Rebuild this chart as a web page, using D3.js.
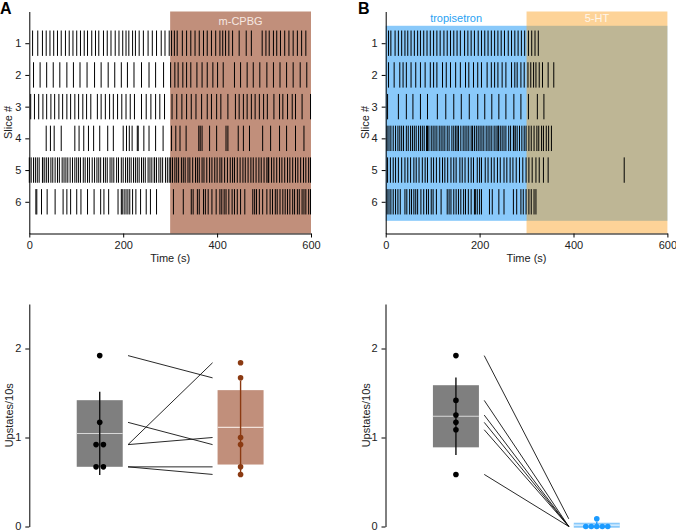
<!DOCTYPE html>
<html><head><meta charset="utf-8">
<script src="https://cdn.jsdelivr.net/npm/d3@7"></script>
<style>
body{margin:0;background:#fff}
svg{display:block}
text{font-family:"Liberation Sans",Arial,Helvetica,sans-serif}
</style>
</head><body>
<svg id="chart" width="676" height="531"></svg>
<script>
// ---------------- DATA ----------------
const slices = [1, 2, 3, 4, 5, 6];
const timeTicks = [0, 200, 400, 600];
const upTicks = [0, 1, 2];

const drugA = "m-CPBG";
const preB = "tropisetron";
const drugB = "5-HT";
const drugStart = 300, drugEnd = 600;

// spike (upstate) times in seconds, one array per slice — panel A
const spikesA1 = [7,18,28,36,44,52,60,68,77,85,93,101,109,117,124,133,141,148,158,166,174,183,191,199,206,212,220,226,234,243,253,262,271,281,289,298,303,309,315,326,335,344,353,362,371,379,388,397,406,412,418,425,433,447,462,473,496,504,511,520,527,535,544,553,562,571,580,589];
const spikesA2 = [9,23,37,51,65,80,94,108,123,139,153,168,182,196,209,223,239,255,269,286,301,310,317,327,335,344,357,368,379,391,401,413,437,450,464,477,491,506,520,534,548,562,577,591];
const spikesA3 = [3,11,20,29,37,46,54,63,71,80,88,97,105,114,122,131,145,153,162,171,179,188,197,206,215,224,239,249,259,269,278,288,304,314,325,335,345,355,367,379,388,399,408,423,439,447,456,464,473,481,490,499,507,521,533,540,550,560,567,581,599];
const spikesA4 = [36,45,53,68,97,106,116,126,137,150,167,179,200,207,213,219,230,232,244,255,269,285,303,312,321,334,361,364,368,384,399,419,423,445,456,469,497,514,533,548,567,585];
const spikesA5 = [0,4,9,13,17,21,28,29,33,37,41,46,50,55,60,64,70,74,78,82,87,92,97,101,105,109,115,119,124,128,134,139,144,148,152,158,162,166,172,176,180,186,190,196,200,205,209,213,217,222,226,230,234,239,243,247,253,257,261,266,267,271,276,280,284,290,294,298,301,305,310,314,318,324,328,332,338,342,348,354,358,362,368,372,378,384,389,395,400,406,410,416,422,428,433,437,443,449,455,460,466,472,477,483,489,494,500,506,509,510,516,521,527,533,538,544,550,555,561,567,572,578,584,589,595,599];
const spikesA6 = [14,16,26,38,55,72,80,88,101,110,124,138,152,159,169,189,196,198,202,206,210,214,220,227,237,249,258,271,307,328,345,349,358,362,371,375,381,389,398,406,410,415,419,425,432,437,443,450,459,476,480,484,490,497,506,513,518,524,528,534,540,545,550,555,561,565,571,575,581,585,589,595,599];

// panel B
const spikesB1 = [6,11,20,27,34,41,47,54,61,68,74,81,88,95,102,109,116,124,131,138,145,152,159,168,175,182,189,197,204,211,218,225,232,239,246,253,261,268,275,282,289,296,304,311,318,325];
const spikesB2 = [6,18,30,37,44,54,64,74,84,95,102,109,121,129,138,149,159,170,177,187,196,204,216,225,232,239,248,256,268,275,280,288,295,303,309,315,320,327,334,346,358];
const spikesB3 = [4,27,44,58,74,89,110,128,145,161,178,196,211,226,241,256,273,288,304,323,337];
const spikesB4 = [3,7,11,16,21,26,30,34,38,44,48,53,57,61,65,70,74,78,82,87,89,92,97,101,105,109,114,118,122,126,131,135,141,145,149,152,155,160,165,169,173,177,182,185,189,193,197,201,205,209,214,218,222,226,231,235,239,240,244,248,252,256,262,266,272,273,276,280,285,290,295,299,305,310,316,322,326,332,336,342,347,353];
const spikesB5 = [4,10,16,21,27,34,41,47,53,60,65,71,78,84,89,97,102,108,115,121,126,132,139,145,150,158,163,169,176,182,187,195,200,204,212,218,225,231,238,244,252,258,265,271,278,285,292,299,305,312,320,327,336,346,508];
const spikesB6 = [3,7,11,16,21,26,31,41,45,51,55,60,64,68,75,81,87,91,97,101,108,118,131,135,139,145,150,155,160,166,170,176,182,189,191,195,200,204,221,227,241,252,272,279,288,293,299,305,310,316,320];

// Upstates / 10 s, paired per slice
const groupsA = ["Control", "m-CPBG"];
const upA_control = [1.92, 1.17, 0.92, 0.92, 0.67, 0.67];
const upA_drug    = [1.67, 0.92, 1.84, 1.00, 0.67, 0.585];
const groupsB = ["tropisetron", "5-HT"];
const upB_control = [1.92, 1.417, 1.252, 1.17, 1.087, 0.585];
const upB_drug    = [0.086, 0, 0, 0, 0, 0];

// ---------------- DRAW ----------------
const svg = d3.select("#chart");
const FONT = 11;
const plotW = 281.7;
const topY = d3.scaleLinear().domain([0, 7]).range([11.5, 233.5]);
const upY = d3.scaleLinear().domain([0, 2.5]).range([526.5, 304]);

const brown = "#C18F7B", brownDark = "#8B3A12";
const blueBg = "#89C9FA", blueDot = "#1C9BFF", blueText = "#2AA2F2";

function styleAxis(g) {
  g.selectAll("path.domain").attr("stroke", "#000").attr("stroke-width", 1);
  g.selectAll(".tick line").attr("stroke", "#000");
  g.selectAll(".tick text").attr("font-size", FONT).attr("fill", "#222")
    .attr("font-family", '"Liberation Sans",Arial,sans-serif');
}

function raster(x0, rows, panel) {
  const x = d3.scaleLinear().domain([0, 600]).range([x0, x0 + plotW]);
  const g = svg.append("g");
  if (panel === "A") {
    g.append("rect").attr("x", x(drugStart)).attr("y", topY(0))
      .attr("width", x(drugEnd) - x(drugStart)).attr("height", topY(7) - topY(0))
      .attr("fill", brown);
  } else {
    g.append("rect").attr("x", x(0)).attr("y", topY(0.45))
      .attr("width", x(600) - x(0)).attr("height", topY(6.6) - topY(0.45))
      .attr("fill", blueBg);
    g.append("rect").attr("x", x(drugStart)).attr("y", topY(0))
      .attr("width", x(drugEnd) - x(drugStart)).attr("height", topY(7) - topY(0))
      .attr("fill", "rgb(251,162,36)").attr("fill-opacity", 0.47);
  }
  rows.forEach((times, i) => {
    const s = slices[i];
    g.append("g").selectAll("line").data(times).join("line")
      .attr("x1", d => x(d)).attr("x2", d => x(d))
      .attr("y1", topY(s - 0.4)).attr("y2", topY(s + 0.4))
      .attr("stroke", "#000").attr("stroke-width", 1);
  });
  if (panel === "A") {
    g.append("text").attr("x", (x(drugStart) + x(drugEnd)) / 2).attr("y", 25)
      .attr("text-anchor", "middle").attr("font-size", FONT).attr("fill", "#F6E8E2").text(drugA);
  } else {
    g.append("text").attr("x", (x(0) + x(drugStart)) / 2).attr("y", 22)
      .attr("text-anchor", "middle").attr("font-size", FONT).attr("fill", blueText).text(preB);
    g.append("text").attr("x", (x(drugStart) + x(drugEnd)) / 2).attr("y", 22)
      .attr("text-anchor", "middle").attr("font-size", FONT).attr("fill", "#FFF6EA").text(drugB);
  }
  const ax = svg.append("g").attr("transform", `translate(0,${topY(7)})`)
    .call(d3.axisBottom(x).tickValues(timeTicks).tickSize(4).tickSizeOuter(0).tickPadding(4));
  styleAxis(ax);
  const ay = svg.append("g").attr("transform", `translate(${x0},0)`)
    .call(d3.axisLeft(topY).tickValues(slices).tickFormat(d3.format("d")).tickSize(4).tickSizeOuter(0).tickPadding(4));
  styleAxis(ay);
  svg.append("text").attr("x", x0 + plotW / 2).attr("y", 262).attr("text-anchor", "middle")
    .attr("font-size", FONT).attr("fill", "#222").text("Time (s)");
  svg.append("text").attr("transform", `translate(${x0 - 21},${(topY(0) + topY(7)) / 2}) rotate(-90)`)
    .attr("text-anchor", "middle").attr("dominant-baseline", "central")
    .attr("font-size", FONT).attr("fill", "#222").text("Slice #");
}

function dodge(values, cx) {
  // spread identical values horizontally
  const out = [];
  const used = new Array(values.length).fill(false);
  values.forEach((v, i) => {
    if (used[i]) return;
    const grp = [];
    values.forEach((w, j) => { if (!used[j] && Math.abs(w - v) < 0.01) { grp.push(j); used[j] = true; } });
    const sp = grp.length <= 2 ? 7.3 : 5.5;
    grp.forEach((j, k) => out.push({ v: values[j], x: cx + (k - (grp.length - 1) / 2) * sp }));
  });
  return out;
}

function summary(x0, groups, ctrl, drug, boxColors, lineColors, dotColors, meanColors) {
  const xs = d3.scalePoint().domain(groups).range([x0, x0 + plotW]).padding(0.5);
  const halfW = 23;
  const g = svg.append("g");
  const xl = xs(groups[0]) + halfW + 5.3, xr = xs(groups[1]) - halfW - 5;
  g.selectAll("line.pair").data(d3.zip(ctrl, drug)).join("line")
    .attr("x1", xl).attr("x2", xr)
    .attr("y1", d => upY(d[0])).attr("y2", d => upY(d[1]))
    .attr("stroke", "#111").attr("stroke-width", 0.9);
  [ctrl, drug].forEach((vals, gi) => {
    const cx = xs(groups[gi]);
    const m = d3.mean(vals), sd = d3.deviation(vals);
    const ci = 1.96 * sd / Math.sqrt(vals.length);
    g.append("rect").attr("x", cx - halfW).attr("width", 2 * halfW)
      .attr("y", upY(m + ci)).attr("height", upY(m - ci) - upY(m + ci))
      .attr("fill", boxColors[gi]);
    g.append("line").attr("x1", cx - halfW).attr("x2", cx + halfW)
      .attr("y1", upY(m)).attr("y2", upY(m)).attr("stroke", meanColors[gi]).attr("stroke-width", 1.2);
    g.append("line").attr("x1", cx).attr("x2", cx)
      .attr("y1", upY(m + sd)).attr("y2", upY(m - sd))
      .attr("stroke", lineColors[gi]).attr("stroke-width", 1.4);
    g.selectAll(null).data(dodge(vals, cx)).join("circle")
      .attr("cx", d => d.x).attr("cy", d => upY(d.v)).attr("r", 2.8)
      .attr("fill", dotColors[gi]);
  });
  const ay = svg.append("g").attr("transform", `translate(${x0},0)`)
    .call(d3.axisLeft(upY).tickValues(upTicks).tickFormat(d3.format("d")).tickSize(4).tickSizeOuter(0).tickPadding(4));
  styleAxis(ay);
  ay.selectAll(".tick text").attr("dy", "0.3em");
  svg.append("text").attr("transform", `translate(${x0 - 20},${(upY(0) + upY(2.5)) / 2}) rotate(-90)`)
    .attr("text-anchor", "middle").attr("dominant-baseline", "central")
    .attr("font-size", FONT).attr("fill", "#222").text("Upstates/10s");
}

raster(29.3, [spikesA1, spikesA2, spikesA3, spikesA4, spikesA5, spikesA6], "A");
raster(385.7, [spikesB1, spikesB2, spikesB3, spikesB4, spikesB5, spikesB6], "B");

summary(29.3, groupsA, upA_control, upA_drug,
  ["#7F7F7F", brown], ["#111", brownDark], ["#000", brownDark], ["#D8D8D8", "#F3E2DA"]);
summary(385.5, groupsB, upB_control, upB_drug,
  ["#7F7F7F", blueBg], ["#111", blueDot], ["#000", blueDot], ["#D8D8D8", "#E6F4FF"]);

svg.append("text").attr("x", 0).attr("y", 14).attr("font-size", 16).attr("font-weight", "bold").text("A");
svg.append("text").attr("x", 358).attr("y", 14).attr("font-size", 16).attr("font-weight", "bold").text("B");
</script>
</body></html>
